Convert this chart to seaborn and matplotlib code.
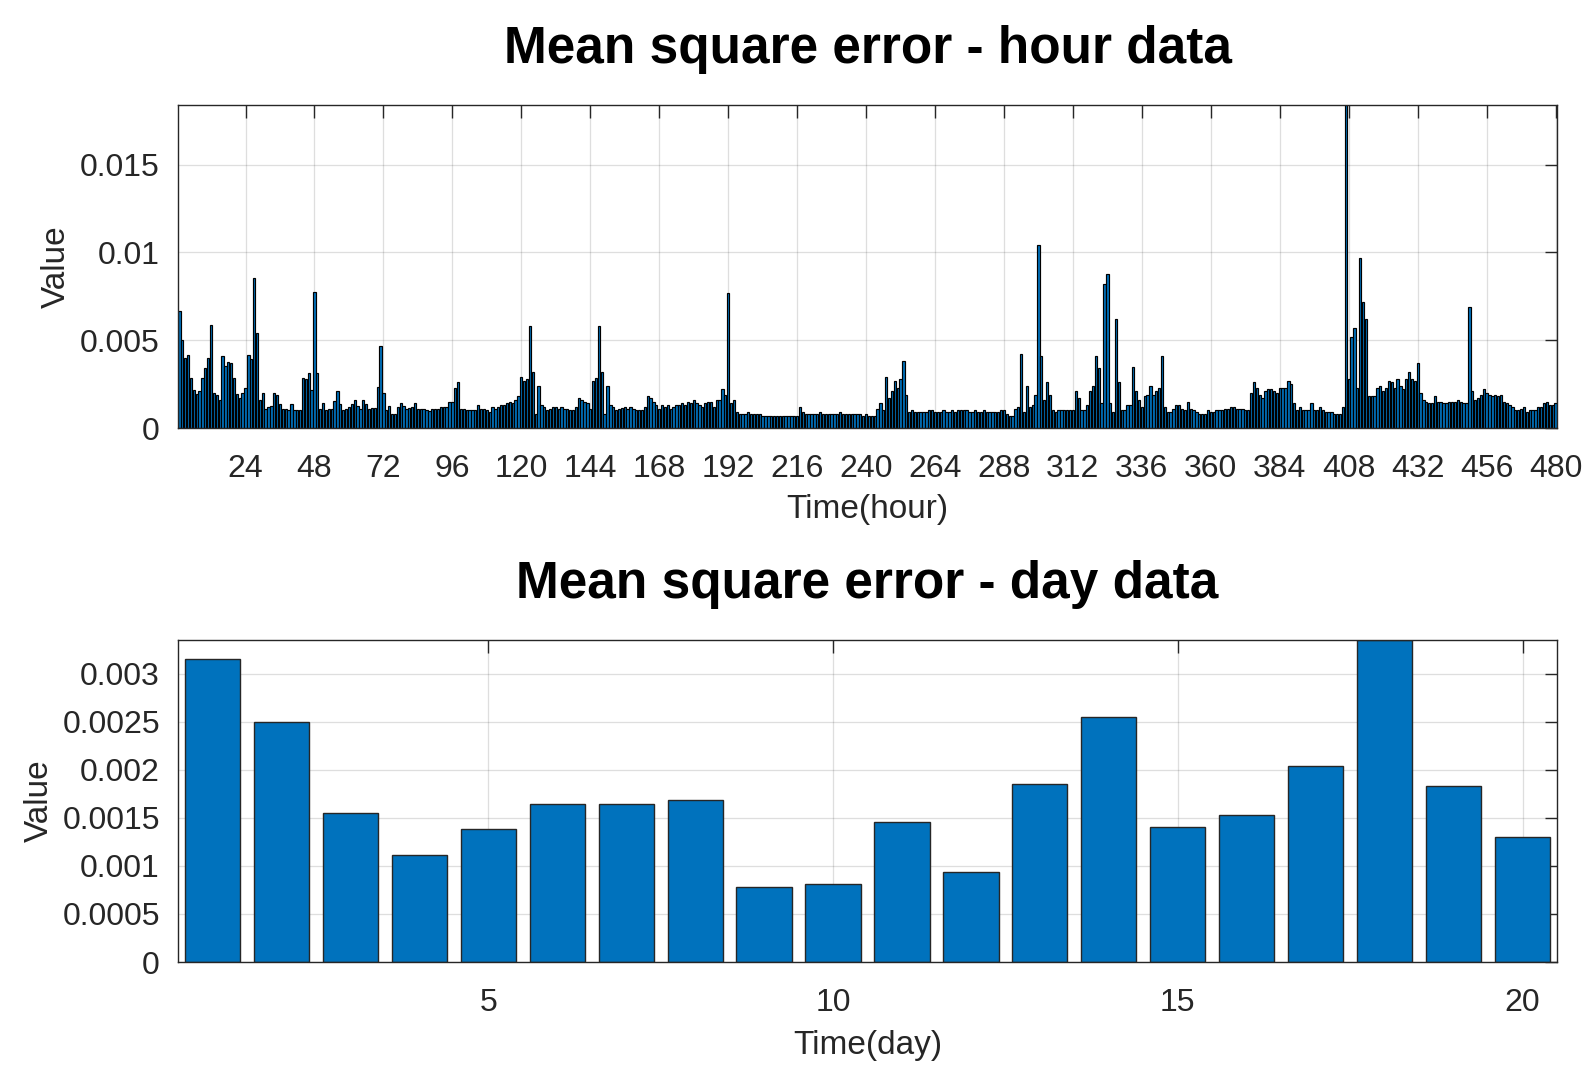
import numpy as np
import matplotlib
matplotlib.use("Agg")
import matplotlib.pyplot as plt
import seaborn as sns

# hourly MSE (units of 1e-3), five days per list
mse_hour_d01_05 = [
    6.64, 5.02, 4.00, 4.16, 2.86, 2.16, 1.93, 2.12, 2.86, 3.40, 4.00, 5.84, 2.02, 1.87, 1.58, 4.10, 3.55, 3.78, 3.68, 2.82, 1.91, 1.72, 1.97, 2.29,
    4.16, 3.93, 8.55, 5.40, 1.62, 2.02, 1.11, 1.20, 1.24, 2.02, 1.87, 1.39, 1.11, 1.11, 1.01, 1.34, 1.01, 1.01, 1.01, 2.86, 2.77, 3.11, 2.16, 7.75,
    3.11, 1.11, 1.45, 1.01, 1.11, 1.11, 1.53, 2.10, 1.39, 1.01, 1.11, 1.20, 1.34, 1.62, 1.24, 1.11, 1.58, 1.34, 1.11, 1.16, 1.16, 2.35, 4.68, 2.00,
    1.01, 1.26, 0.82, 0.82, 1.20, 1.45, 1.24, 1.11, 1.14, 1.20, 1.40, 1.10, 1.10, 1.10, 1.00, 0.95, 1.10, 1.10, 1.10, 1.20, 1.20, 1.20, 1.50, 1.50,
    2.30, 2.60, 1.10, 1.10, 1.00, 1.00, 1.00, 1.00, 1.30, 1.10, 1.10, 1.00, 0.90, 1.20, 1.10, 1.20, 1.30, 1.30, 1.40, 1.50, 1.40, 1.60, 1.80, 2.90,
]
mse_hour_d06_10 = [
    2.70, 2.80, 5.80, 3.20, 0.80, 2.40, 1.30, 1.20, 1.00, 1.10, 1.20, 1.20, 1.10, 1.20, 1.10, 1.10, 1.00, 1.00, 1.20, 1.70, 1.60, 1.50, 1.40, 1.10,
    2.70, 2.85, 5.80, 3.20, 0.80, 2.40, 1.30, 1.20, 1.00, 1.10, 1.15, 1.20, 1.10, 1.20, 1.10, 1.05, 1.00, 1.00, 1.20, 1.80, 1.70, 1.50, 1.30, 1.10,
    1.30, 1.20, 1.30, 1.10, 1.20, 1.30, 1.30, 1.40, 1.30, 1.50, 1.40, 1.60, 1.40, 1.30, 1.20, 1.40, 1.50, 1.50, 1.20, 1.60, 1.60, 2.20, 1.90, 7.70,
    1.40, 1.60, 0.90, 0.80, 0.80, 0.80, 0.90, 0.80, 0.80, 0.80, 0.80, 0.70, 0.70, 0.70, 0.68, 0.68, 0.68, 0.68, 0.67, 0.67, 0.68, 0.68, 0.68, 0.68,
    1.20, 0.90, 0.80, 0.80, 0.80, 0.80, 0.80, 0.90, 0.80, 0.80, 0.80, 0.80, 0.80, 0.80, 0.90, 0.80, 0.80, 0.80, 0.80, 0.80, 0.80, 0.80, 0.70, 0.80,
]
mse_hour_d11_15 = [
    0.70, 0.70, 0.70, 1.10, 1.40, 1.00, 2.90, 1.70, 2.10, 2.70, 2.30, 2.80, 3.80, 1.90, 0.90, 1.00, 0.90, 0.90, 0.90, 0.90, 0.90, 1.00, 1.00, 0.90,
    0.90, 0.90, 1.00, 0.90, 0.90, 1.00, 0.90, 1.00, 1.00, 1.00, 1.00, 0.90, 0.90, 1.00, 0.90, 0.90, 1.00, 0.90, 0.90, 0.90, 0.90, 0.90, 1.00, 1.00,
    0.80, 0.70, 0.70, 1.10, 1.20, 4.20, 0.90, 2.40, 1.20, 1.30, 1.90, 10.40, 4.10, 1.60, 2.60, 1.90, 1.00, 0.90, 1.00, 1.00, 1.00, 1.00, 1.00, 1.00,
    2.10, 1.70, 1.00, 1.00, 1.30, 2.10, 2.40, 4.10, 3.40, 1.40, 8.20, 8.80, 1.40, 0.90, 6.20, 2.60, 1.00, 1.00, 1.30, 1.30, 3.50, 2.10, 1.60, 1.20,
    1.80, 1.90, 2.40, 1.90, 2.10, 2.30, 4.10, 1.20, 0.90, 0.90, 1.10, 1.30, 1.30, 1.10, 1.00, 1.50, 1.10, 1.00, 0.90, 0.80, 0.80, 0.80, 1.00, 0.90,
]
mse_hour_d16_20 = [
    0.90, 1.00, 1.00, 1.00, 1.10, 1.10, 1.20, 1.20, 1.10, 1.10, 1.10, 1.00, 1.00, 2.00, 2.60, 2.30, 1.90, 1.70, 2.10, 2.20, 2.20, 2.10, 2.00, 2.30,
    2.30, 2.30, 2.70, 2.50, 1.40, 1.00, 1.20, 1.00, 1.00, 1.00, 1.40, 1.00, 1.00, 1.20, 1.00, 0.90, 0.90, 0.90, 0.80, 0.80, 0.80, 1.20, 18.40, 2.80,
    5.20, 5.70, 2.30, 9.70, 7.20, 6.20, 1.80, 1.80, 1.80, 2.30, 2.40, 2.10, 2.30, 2.70, 2.60, 2.30, 2.80, 2.40, 2.20, 2.80, 3.20, 2.80, 2.70, 3.70,
    2.00, 1.60, 1.50, 1.40, 1.40, 1.80, 1.50, 1.50, 1.40, 1.40, 1.50, 1.50, 1.50, 1.60, 1.50, 1.40, 1.40, 6.90, 2.10, 1.60, 1.70, 1.90, 2.20, 2.00,
    1.90, 1.80, 1.90, 1.80, 1.90, 1.50, 1.40, 1.30, 1.20, 1.00, 1.00, 1.10, 1.20, 0.90, 1.00, 1.00, 1.00, 1.20, 1.20, 1.40, 1.50, 1.30, 1.30, 1.40,
]

# daily MSE (units of 1e-3)
mse_day = [3.15, 2.50, 1.55, 1.11, 1.38, 1.64, 1.64, 1.69, 0.78, 0.81,
           1.46, 0.94, 1.85, 2.55, 1.40, 1.53, 2.04, 3.35, 1.83, 1.30]

hour_ticks = list(range(24, 481, 24))
hour_yticks = [0, 0.005, 0.01, 0.015]
hour_ytick_labels = ["0", "0.005", "0.01", "0.015"]
day_ticks = [5, 10, 15, 20]
day_yticks = [0, 0.0005, 0.001, 0.0015, 0.002, 0.0025, 0.003]
day_ytick_labels = ["0", "0.0005", "0.001", "0.0015", "0.002", "0.0025", "0.003"]

hour_mse = np.array(mse_hour_d01_05 + mse_hour_d06_10 + mse_hour_d11_15 + mse_hour_d16_20) * 1e-3
hours = np.arange(1, len(hour_mse) + 1)
day_vals = np.array(mse_day) * 1e-3
days = np.arange(1, len(day_vals) + 1)

BLUE = "#0072BD"
DARK = "#262626"

sns.set_style("white")
plt.rcParams["font.family"] = ["Liberation Sans", "DejaVu Sans"]


def style_axes(ax):
    ax.set_axisbelow(True)
    ax.grid(True, color=DARK, alpha=0.15, linewidth=0.9)
    for sp in ax.spines.values():
        sp.set_visible(True)
        sp.set_color(DARK)
        sp.set_linewidth(1.0)
    ax.tick_params(direction="in", length=9, width=1, color=DARK, top=True, right=True,
                   labelsize=23, labelcolor=DARK)
    ax.tick_params(axis="x", pad=19)
    ax.tick_params(axis="y", pad=13)


fig = plt.figure(figsize=(15.96, 10.87), dpi=100)
ax1 = fig.add_axes([178 / 1596, 1 - 428 / 1087, 1379 / 1596, 323 / 1087])
ax2 = fig.add_axes([178 / 1596, 1 - 962 / 1087, 1379 / 1596, 322 / 1087])

# --- hour data ---
sns.barplot(x=hours, y=hour_mse, native_scale=True, color=BLUE, saturation=1,
            edgecolor="black", linewidth=0.85, width=0.8, errorbar=None, ax=ax1)
style_axes(ax1)
ax1.set_xlim(0.5, 480.5)
ax1.set_ylim(0, 0.0184)
ax1.set_xticks(hour_ticks)
ax1.set_xticklabels([str(t) for t in hour_ticks])
ax1.set_yticks(hour_yticks)
ax1.set_yticklabels(hour_ytick_labels)
ax1.set_title("Mean square error - hour data", fontsize=37, fontweight="bold", pad=30, color="black")
ax1.set_xlabel("Time(hour)", fontsize=24, color=DARK)
ax1.set_ylabel("Value", fontsize=24, color=DARK)
ax1.xaxis.set_label_coords(0.5, -0.205)
ax1.yaxis.set_label_coords(-0.077, 0.5)

# --- day data ---
sns.barplot(x=days, y=day_vals, native_scale=True, color=BLUE, saturation=1,
            edgecolor=DARK, linewidth=1.0, width=0.8, errorbar=None, ax=ax2)
style_axes(ax2)
ax2.set_xlim(0.5, 20.5)
ax2.set_ylim(0, 0.00335)
ax2.set_xticks(day_ticks)
ax2.set_xticklabels([str(t) for t in day_ticks])
ax2.set_yticks(day_yticks)
ax2.set_yticklabels(day_ytick_labels)
ax2.set_title("Mean square error - day data", fontsize=37, fontweight="bold", pad=30, color="black")
ax2.set_xlabel("Time(day)", fontsize=24, color=DARK)
ax2.set_ylabel("Value", fontsize=24, color=DARK)
ax2.xaxis.set_label_coords(0.5, -0.21)
ax2.yaxis.set_label_coords(-0.089, 0.5)

fig.savefig("out.png", dpi=100)
